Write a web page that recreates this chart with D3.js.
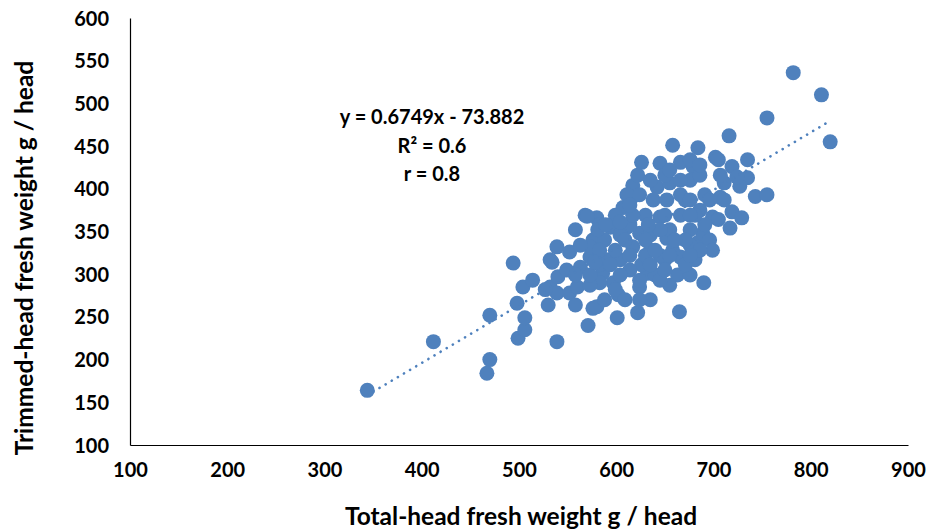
<!DOCTYPE html>
<html>
<head>
<meta charset="utf-8">
<script src="https://cdn.jsdelivr.net/npm/d3@7"></script>
<style>
  body { margin: 0; background: #fff; }
  svg text { font-family: Lato, "Liberation Sans", Arial, sans-serif; font-weight: bold; fill: #000; }
</style>
</head>
<body>
<div class="scatter-plot-container"></div>
<script>
// total-head weight (x) and trimmed-head weight (y), g / head
const totalWeight = [
  344, 412, 470, 470, 467, 494, 499, 506, 506, 498, 504, 514, 539, 530, 532, 540, 539, 534, 552, 563,
  571, 576, 601, 597, 602, 622, 624, 632, 665, 663, 650, 573, 539, 532, 552, 568, 580, 576, 607, 616,
  617, 622, 626, 645, 642, 638, 658, 684, 702, 705, 719, 735, 735, 743, 755, 666, 679, 655, 711, 727,
  724, 716, 755, 782, 811, 820, 719, 729, 717, 699, 707, 676, 690, 684, 666, 705, 689, 611, 549, 560,
  586, 599, 626, 635, 617, 652, 652, 645, 611, 594, 624, 658, 583, 573, 590, 580, 599, 588,
  604, 614, 630, 635, 645, 640, 655, 666, 671, 676, 681, 686, 691, 696, 666, 650, 558, 563, 583, 614,
  609, 635, 604, 676, 655, 699, 624, 583, 676, 686, 691, 711, 676, 650, 599, 630, 558, 573, 588, 624,
  645, 570, 617, 609, 630, 645, 583, 594, 614, 635, 650, 671, 604, 573, 527, 558, 635, 655, 666, 681,
  696, 671, 686, 624, 655, 676, 707, 686, 581, 589, 604, 640, 660, 676, 578, 614, 676, 633
];
const trimmedWeight = [
  164, 221, 252, 200, 184, 313, 225, 235, 249, 266, 285, 293, 221, 264, 285, 297, 278, 314, 278, 308,
  240, 260, 249, 290, 276, 255, 285, 301, 256, 299, 317, 320, 332, 317, 326, 369, 366, 340, 378, 390,
  404, 416, 431, 430, 402, 387, 451, 448, 437, 434, 426, 434, 413, 391, 393, 431, 426, 407, 407, 403,
  414, 462, 483, 536, 510, 455, 373, 366, 354, 367, 390, 410, 290, 337, 320, 364, 348, 393, 305, 285,
  301, 282, 311, 328, 332, 342, 387, 367, 355, 355, 348, 328, 290, 332, 317, 262, 369, 340,
  317, 358, 369, 346, 322, 299, 352, 369, 387, 352, 317, 375, 393, 340, 410, 416, 352, 334, 311, 305,
  270, 270, 346, 299, 287, 328, 393, 358, 434, 416, 358, 387, 334, 369, 328, 322, 299, 287, 270, 270,
  293, 368, 369, 340, 340, 352, 328, 311, 322, 311, 305, 311, 299, 299, 282, 264, 410, 422, 393, 369,
  387, 340, 328, 293, 322, 387, 416, 428, 352, 358, 361, 328, 340, 322, 314, 381, 369, 358
];
const xTicks = [100, 200, 300, 400, 500, 600, 700, 800, 900];
const yTicks = [100, 150, 200, 250, 300, 350, 400, 450, 500, 550, 600];
// Excel linear trendline
const slope = 0.6749;
const intercept = -73.882;
const fitLabels = ['y = 0.6749x - 73.882', 'R² = 0.6', 'r = 0.8'];

const points = totalWeight.map((d, i) => ({x: d, y: trimmedWeight[i]}));

const svg_width = 931;
const svg_height = 531;
const chart_margin = {top: 18, right: 23, bottom: 86, left: 130};
const chart_width = svg_width - (chart_margin.left + chart_margin.right);
const chart_height = svg_height - (chart_margin.top + chart_margin.bottom);

const svg = d3.select('.scatter-plot-container').append('svg')
  .attr('width', svg_width).attr('height', svg_height);
const g = svg.append('g')
  .attr('transform', `translate(${chart_margin.left},${chart_margin.top})`);

const xScale = d3.scaleLinear().domain([100, 900]).range([0, chart_width]);
const yScale = d3.scaleLinear().domain([100, 600]).range([chart_height, 0]);

// axes
const xAxisDraw = g.append('g')
  .attr('transform', `translate(0,${chart_height})`)
  .call(d3.axisBottom(xScale).tickValues(xTicks).tickSize(0).tickPadding(18));
const yAxisDraw = g.append('g')
  .call(d3.axisLeft(yScale).tickValues(yTicks).tickSize(0).tickPadding(21));
[xAxisDraw, yAxisDraw].forEach(a => {
  a.select('.domain').attr('stroke', '#000').attr('stroke-width', 1.2);
  a.selectAll('text').style('font-size', '20px').attr('fill', '#000');
});
yAxisDraw.selectAll('text').attr('dy', '0.35em');

// points
g.selectAll('.scatter')
  .data(points)
  .enter()
  .append('circle').attr('class', 'scatter')
  .attr('cx', d => xScale(d.x)).attr('cy', d => yScale(d.y))
  .attr('r', 7.5)
  .style('fill', '#4f81bd');

// trendline
const xExt = d3.extent(totalWeight);
g.append('line')
  .attr('x1', xScale(xExt[0])).attr('y1', yScale(slope * xExt[0] + intercept))
  .attr('x2', xScale(xExt[1])).attr('y2', yScale(slope * xExt[1] + intercept))
  .attr('stroke', '#4f81bd').attr('stroke-width', 2.6)
  .attr('stroke-linecap', 'round').attr('stroke-dasharray', '0.1 7');

// fit labels
svg.append('g').selectAll('text')
  .data(fitLabels)
  .enter().append('text')
  .attr('x', 432).attr('y', (d, i) => 124 + i * 28.5)
  .attr('text-anchor', 'middle')
  .style('font-size', '20px')
  .text(d => d);

// titles
svg.append('text')
  .attr('x', 521).attr('y', 525)
  .attr('text-anchor', 'middle')
  .style('font-size', '24.5px')
  .text('Total-head fresh weight g / head');
svg.append('text')
  .attr('transform', 'translate(33,258) rotate(-90)')
  .attr('text-anchor', 'middle')
  .style('font-size', '24.5px')
  .text('Trimmed-head fresh weight g / head');
</script>
</body>
</html>
